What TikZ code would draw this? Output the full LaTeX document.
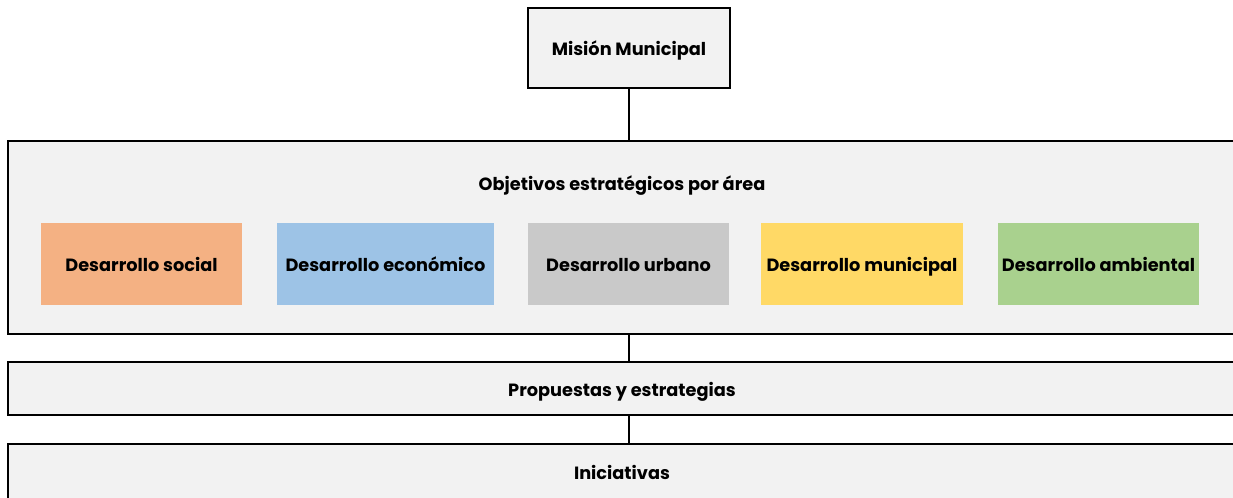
\documentclass[tikz,border=0pt]{standalone}
\usepackage{fontspec}
\setmainfont{Poppins}
\definecolor{boxgray}{RGB}{242,242,242}
\definecolor{social}{RGB}{244,177,131}
\definecolor{economico}{RGB}{157,195,230}
\definecolor{urbano}{RGB}{201,201,201}
\definecolor{municipal}{RGB}{255,217,102}
\definecolor{ambiental}{RGB}{169,209,142}
\tikzset{every picture/.style={line width=0.75pt}}

\begin{document}
\begin{tikzpicture}[x=0.75pt,y=0.75pt,yscale=-1,xscale=1,
	band/.style={draw=black,line width=1.5pt,fill=boxgray,inner sep=0pt},
	area/.style={inner sep=0pt,minimum height=61.5pt},
	txt/.style={font=\fontsize{13.3}{15}\selectfont\bfseries,text height=1.15em,text depth=0em}]
	%set diagram size to the reference
	\useasboundingbox (0,0) rectangle (1233,497);

	\node [band,minimum width=151.5pt,minimum height=60pt,txt] (mision) at (629,48) {Misión Municipal};

	\node [band,minimum width=921pt,minimum height=144.75pt] (objetivos) at (622,237.5) {};
	\node [txt] (objtitulo) at (622,183) {Objetivos estratégicos por área};

	\node [area,fill=social,minimum width=150.75pt,txt] (social) at (141.5,264) {Desarrollo social};
	\node [area,fill=economico,minimum width=162.75pt,txt] (economico) at (385.5,264) {Desarrollo económico};
	\node [area,fill=urbano,minimum width=150.75pt,txt] (urbano) at (628.5,264) {Desarrollo urbano};
	\node [area,fill=municipal,minimum width=151.5pt,txt] (municipal) at (862,264) {Desarrollo municipal};
	\node [area,fill=ambiental,minimum width=150.75pt,txt] (ambiental) at (1098.5,264) {Desarrollo ambiental};

	\node [band,minimum width=921pt,minimum height=39.75pt,txt] (propuestas) at (622,388.5) {Propuestas y estrategias};
	\node [band,minimum width=921pt,minimum height=42pt,txt] (iniciativas) at (622,472) {Iniciativas};

	\draw [line width=1.5pt] (mision.south) -- (mision.south |- objetivos.north);
	\draw [line width=1.5pt] (mision.south |- objetivos.south) -- (mision.south |- propuestas.north);
	\draw [line width=1.5pt] (mision.south |- propuestas.south) -- (mision.south |- iniciativas.north);

\end{tikzpicture}
\end{document}
